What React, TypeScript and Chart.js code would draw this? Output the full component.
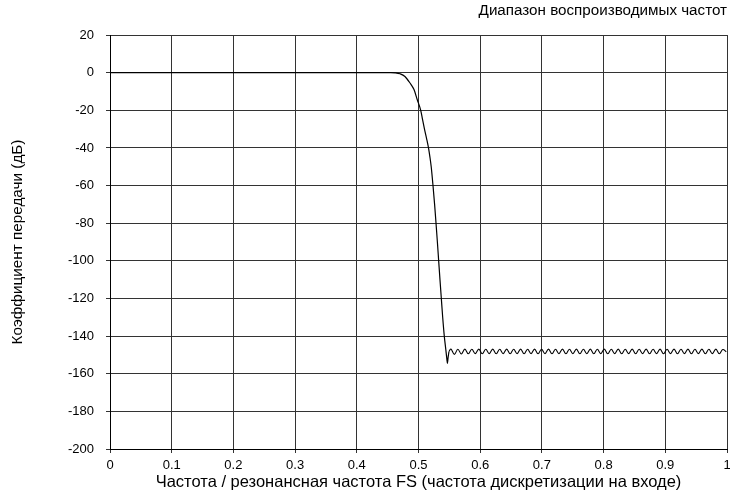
import React, { useEffect, useRef } from "react";
import { Chart, registerables } from "chart.js";

Chart.register(...registerables);

const chartTitle = "Диапазон воспроизводимых частот";
const xAxisTitle = "Частота / резонансная частота FS (частота дискретизации на входе)";
const yAxisTitle = "Коэффициент передачи (дБ)";

const xTickValues = [0, 0.1, 0.2, 0.3, 0.4, 0.5, 0.6, 0.7, 0.8, 0.9, 1];
const xTickLabels = ["0", "0.1", "0.2", "0.3", "0.4", "0.5", "0.6", "0.7", "0.8", "0.9", "1"];
const yTickValues = [20, 0, -20, -40, -60, -80, -100, -120, -140, -160, -180, -200];

// Passband and roll-off (frequency / FS, gain dB)
const rollX = [
  0, 0.455, 0.4619, 0.47, 0.478, 0.4862, 0.4927, 0.498, 0.5036, 0.5066, 0.5097, 0.5131, 0.5162,
  0.5186, 0.5206, 0.5235, 0.5261, 0.5284, 0.5306, 0.5327, 0.5348, 0.537, 0.5392, 0.5418, 0.5442,
  0.5459, 0.5468, 0.5481, 0.5494,
];
const rollY = [
  0, 0, -0.1, -0.6, -2, -5.5, -9, -14.4, -20, -25, -30, -35, -40,
  -45, -50, -60, -70, -80, -90, -100, -110, -120, -130, -140, -147,
  -152, -154.5, -151, -148.2,
];

// Stopband ripple, read at successive peaks / troughs
const rippleStart = 0.5525;
const rippleStep = 0.00565;
const rippleY = [
  -146.9, -149.7, -147.0, -149.5, -146.9, -149.4, -147.0, -149.3, -146.9, -149.4,
  -147.0, -149.3, -146.9, -149.4, -147.0, -149.3, -146.9, -149.4, -147.0, -149.3,
  -146.9, -149.4, -147.0, -149.3, -146.9, -149.4, -147.0, -149.3, -146.9, -149.4,
  -147.0, -149.3, -146.9, -149.4, -147.0, -149.3, -146.9, -149.4, -147.0, -149.3,
  -146.9, -149.4, -147.0, -149.3, -146.9, -149.4, -147.0, -149.3, -146.9, -149.4,
  -147.0, -149.3, -146.9, -149.4, -147.0, -149.3, -146.9, -149.4, -147.0, -149.3,
  -146.9, -149.4, -147.0, -149.3, -146.9, -149.4, -147.0, -149.3, -146.9, -149.4,
  -147.0, -149.3, -146.9, -149.4, -147.0, -149.3, -146.9, -149.4, -147.1, -148.4,
];

const FONT = "'Liberation Sans', Arial, sans-serif";

export default function App() {
  const ref = useRef<HTMLCanvasElement | null>(null);

  useEffect(() => {
    document.body.style.margin = "0";
    const canvas = ref.current;
    if (!canvas) return;

    const rollData = rollX.map((x, i) => ({ x, y: rollY[i] }));
    const rippleData = [{ x: rollX[rollX.length - 1], y: rollY[rollY.length - 1] }].concat(
      rippleY.map((y, i) => ({ x: Math.min(1, rippleStart + i * rippleStep), y }))
    );

    const gridColor = "#333";

    const chart = new Chart(canvas, {
      type: "line",
      data: {
        datasets: [
          {
            data: rollData,
            borderColor: "#000",
            borderWidth: 1.2,
            pointRadius: 0,
            cubicInterpolationMode: "monotone",
            fill: false,
          },
          {
            data: rippleData,
            borderColor: "#000",
            borderWidth: 1.1,
            pointRadius: 0,
            tension: 0.4,
            fill: false,
          },
        ],
      },
      options: {
        responsive: false,
        animation: false,
        layout: { padding: { left: 0, right: 3, top: 0, bottom: 0 } },
        plugins: {
          legend: { display: false },
          tooltip: { enabled: false },
          title: {
            display: true,
            text: chartTitle,
            align: "end",
            color: "#000",
            font: { family: FONT, size: 15.2, weight: "normal" },
            padding: { top: 2, bottom: 14.8 },
          },
        },
        scales: {
          x: {
            type: "linear",
            min: 0,
            max: 1,
            afterBuildTicks: (s: any) => {
              s.ticks = xTickValues.map((v) => ({ value: v }));
            },
            afterFit: (s: any) => {
              s.height = 45;
              s.paddingLeft = 0;
              s.paddingRight = 0;
            },
            grid: { color: gridColor, tickLength: 4, drawTicks: true },
            border: { color: "#000" },
            ticks: {
              color: "#000",
              font: { family: FONT, size: 13 },
              padding: 5,
              maxRotation: 0,
              autoSkip: false,
              callback: (v: any) => {
                const i = xTickValues.findIndex((t) => Math.abs(t - Number(v)) < 1e-9);
                return i >= 0 ? xTickLabels[i] : "";
              },
            },
            title: {
              display: true,
              text: xAxisTitle,
              color: "#000",
              font: { family: FONT, size: 16.5 },
              padding: { top: 0, bottom: 2 },
            },
          },
          y: {
            type: "linear",
            min: -200,
            max: 20,
            afterBuildTicks: (s: any) => {
              s.ticks = yTickValues.map((v) => ({ value: v }));
            },
            afterFit: (s: any) => {
              s.width = 110;
            },
            grid: { color: gridColor, tickLength: 4, drawTicks: true },
            border: { color: "#000" },
            ticks: {
              color: "#000",
              font: { family: FONT, size: 13 },
              padding: 12,
              autoSkip: false,
              callback: (v: any) => String(v),
            },
            title: {
              display: true,
              text: yAxisTitle,
              color: "#000",
              font: { family: FONT, size: 15.3 },
              padding: { top: 9, bottom: 0 },
            },
          },
        },
      },
    });

    return () => chart.destroy();
  }, []);

  return (
    <div style={{ width: 730, height: 494, background: "#fff" }}>
      <canvas ref={ref} width={730} height={494} style={{ display: "block" }} />
    </div>
  );
}
